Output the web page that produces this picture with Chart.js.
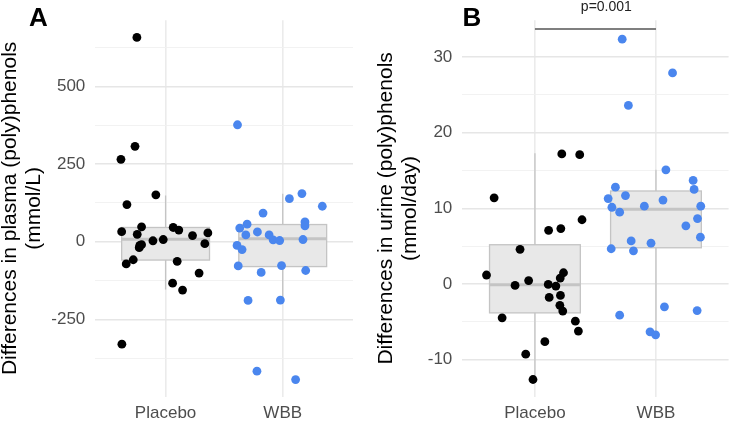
<!DOCTYPE html>
<html>
<head>
<meta charset="utf-8">
<script src="https://cdn.jsdelivr.net/npm/chart.js@4/dist/chart.umd.min.js"></script>
<style>
  body { margin: 0; background: #fff; }
  .painel { position: absolute; top: 0; height: 423px; }
</style>
</head>
<body>
<div class="painel" style="left:0;width:366px"><canvas id="chartPlasma"></canvas></div>
<div class="painel" style="left:366px;width:367px"><canvas id="chartUrina"></canvas></div>
<script>
// geral
Chart.defaults.font.family = 'Liberation Sans';
Chart.defaults.animation = false;

const categorias = ['Placebo', 'WBB'];

// plasma (A)
const plasmaPlacebo = [658.6, 307.6, 265.7, 151.3, 119.8, 32.5, 48.2, 24, -11.7, -9.5, -19, 3.2, 7.2,
    46, 37.8, 19.9, 28.4, -6.3, -71.5, -58, -63, -101, -133.6, -155.6, -330];
const plasmaPlaceboJitter = [0.755, 0.739, 0.619, 0.917, 0.670, 0.625, 0.795, 0.758, 0.78, 0.795, 0.775, 0.892, 0.98,
    1.065, 1.113, 1.23, 1.361, 1.335, 0.664, 0.724, 1.099, 1.286, 1.06, 1.145, 0.627];
const plasmaWBB = [377, 92.3, 138.7, 155.4, 114.4, 44, 56.6, 22, 31.5, 22, 6.3, 4, 64,
    51.4, 7.2, -11.7, -25.3, -77.8, -98.8, -76.8, -92.6, -189, -188, -417, -444];
const plasmaWBBJitter = [1.614, 1.832, 2.057, 2.164, 2.338, 1.633, 1.696, 1.685, 1.784, 1.884, 1.918, 1.974, 2.19,
    2.19, 2.173, 1.61, 1.653, 1.62, 1.816, 1.99, 2.196, 1.704, 1.98, 1.78, 2.11];
// [min, q1, mediana, q3, max]
const plasmaBox = [[-154, -59, 8.2, 46, 149], [-189, -80, 9.5, 55.5, 155]];
const plasmaTicks = [-375, -250, -125, 0, 125, 250, 375, 500, 625];

// urina (B)
const urinaPlacebo = [11.4, 17.2, 17.1, 8.5, 7.1, 7.33, 4.6, 1.2, -0.17, 0.47, -0.04, -0.26, 1.5, 0.8,
    -1.76, -1.5, -2.8, -3.56, -4.46, -4.9, -6.2, -7.6, -9.25, -12.6];
const urinaPlaceboJitter = [0.663, 1.222, 1.37, 1.389, 1.113, 1.214, 0.877, 0.6, 0.836, 0.948, 1.11, 1.173, 1.236, 1.209,
    1.118, 1.211, 1.206, 1.23, 0.729, 1.334, 1.359, 1.082, 0.924, 0.984];
const urinaWBB = [32.35, 27.9, 23.6, 15.1, 13.7, 12.5, 12.8, 11.3, 11.7, 11.1, 10.15, 10.3, 10.3, 9.5, 8.65,
    7.7, 6.2, 5.7, 5.4, 4.67, 4.4, -3.0, -3.5, -4.1, -6.3, -6.7];
const urinaWBBJitter = [1.721, 2.137, 1.772, 2.082, 2.307, 2.315, 1.665, 1.605, 1.748, 2.058, 1.636, 1.904, 2.37, 1.7, 2.343,
    2.247, 2.367, 1.795, 1.959, 1.63, 1.814, 2.07, 2.34, 1.7, 1.951, 1.997];
const urinaBox = [[-12.6, -3.8, -0.1, 5.2, 17.3], [-6.8, 4.8, 9.9, 12.3, 15.1]];
const urinaTicks = [-10, -5, 0, 5, 10, 15, 20, 25, 30];
const pValor = 'p=0.001';
const pAltura = 33.7;

const pontos = (valores, jitter) => valores.map((v, i) => ({ x: jitter[i], y: v }));

// boxplot desenhado por baixo dos pontos

const boxplot = {
    id: 'boxplot',
    beforeDatasetsDraw(chart, args, options) {
        const { ctx, scales: { x, y } } = chart;
        ctx.save();
        options.stats.forEach((s, i) => {
            const cx = x.getPixelForValue(i + 1);
            const l = x.getPixelForValue(i + 1 - 0.375);
            const r = x.getPixelForValue(i + 1 + 0.375);
            ctx.strokeStyle = '#c4c4c4';
            ctx.lineWidth = 1.3;
            // bigodes
            ctx.beginPath();
            ctx.moveTo(cx, y.getPixelForValue(s[0]));
            ctx.lineTo(cx, y.getPixelForValue(s[1]));
            ctx.moveTo(cx, y.getPixelForValue(s[3]));
            ctx.lineTo(cx, y.getPixelForValue(s[4]));
            ctx.stroke();
            // caixa
            const top = y.getPixelForValue(s[3]);
            const bot = y.getPixelForValue(s[1]);
            ctx.fillStyle = '#e8e8e8';
            ctx.fillRect(l, top, r - l, bot - top);
            ctx.strokeRect(l, top, r - l, bot - top);
            // mediana
            ctx.lineWidth = 3;
            ctx.beginPath();
            ctx.moveTo(l, y.getPixelForValue(s[2]));
            ctx.lineTo(r, y.getPixelForValue(s[2]));
            ctx.stroke();
        });
        ctx.restore();
    },
    afterDraw(chart, args, options) {
        const { ctx, scales: { x, y } } = chart;
        ctx.save();
        ctx.fillStyle = '#000';
        ctx.font = 'bold 26px Liberation Sans';
        ctx.textBaseline = 'alphabetic';
        ctx.fillText(options.tag, options.tagX, 26);
        if (options.p) {
            const py = y.getPixelForValue(options.p.altura);
            ctx.strokeStyle = '#555';
            ctx.lineWidth = 1.3;
            ctx.beginPath();
            ctx.moveTo(x.getPixelForValue(1), py);
            ctx.lineTo(x.getPixelForValue(2), py);
            ctx.stroke();
            ctx.fillStyle = '#222';
            ctx.font = '14px Liberation Sans';
            ctx.textAlign = 'center';
            ctx.fillText(options.p.texto, x.getPixelForValue(1.59), 11);
        }
        ctx.restore();
    }
};

function grafico(id, placebo, placeboX, wbb, wbbX, caixa, ticks, min, max, major, titulo, layout, tag, tagX, p) {
    new Chart(document.getElementById(id), {
        type: 'scatter',
        data: {
            datasets: [
                { data: pontos(placebo, placeboX), backgroundColor: '#000', borderWidth: 0, pointRadius: 4.4 },
                { data: pontos(wbb, wbbX), backgroundColor: '#4a86ee', borderWidth: 0, pointRadius: 4.4 }
            ]
        },
        options: {
            responsive: true,
            maintainAspectRatio: false,
            layout: { padding: layout },
            plugins: {
                legend: { display: false },
                tooltip: { enabled: false },
                boxplot: { stats: caixa, tag: tag, tagX: tagX, p: p }
            },
            scales: {
                x: {
                    type: 'linear', min: 0.4, max: 2.6,
                    afterBuildTicks: (s) => { s.ticks = [{ value: 1 }, { value: 2 }]; },
                    afterFit: (s) => { s.height = 26.4; },
                    ticks: { padding: 6.6, color: '#4d4d4d', font: { size: 17 },
                        callback: (v) => categorias[v - 1] },
                    grid: { color: '#ebebeb', lineWidth: 1.6, drawTicks: false },
                    border: { display: false }
                },
                y: {
                    min: min, max: max,
                    afterBuildTicks: (s) => { s.ticks = ticks.map(v => ({ value: v })); },
                    afterFit: (s) => { s.width = layout.yWidth; },
                    ticks: { padding: 10, color: '#4d4d4d', font: { size: 17 },
                        callback: (v) => (v % major === 0 ? v : '') },
                    grid: {
                        drawTicks: false,
                        color: (c) => (c.tick && c.tick.value % major === 0 ? '#e6e6e6' : '#f1f1f1'),
                        lineWidth: (c) => (c.tick && c.tick.value % major === 0 ? 1.6 : 0.9)
                    },
                    border: { display: false },
                    title: { display: true, text: titulo, color: '#000',
                        font: { size: 21, lineHeight: 1.15 }, padding: { top: layout.tituloTop, bottom: 0 } }
                }
            }
        },
        plugins: [boxplot]
    });
}

// Gráfico plasma
grafico('chartPlasma', plasmaPlacebo, plasmaPlaceboJitter, plasmaWBB, plasmaWBBJitter, plasmaBox,
    plasmaTicks, -499, 714, 250, ['Differences in plasma (poly)phenols', '(mmol/L)'],
    { top: 11.7, right: 13, bottom: 0, left: 0, yWidth: 95.3, tituloTop: -2 }, 'A', 29, null);

// Gráfico urina
grafico('chartUrina', urinaPlacebo, urinaPlaceboJitter, urinaWBB, urinaWBBJitter, urinaBox,
    urinaTicks, -14.86, 34.86, 10, ['Differences in urine (poly)phenols', '(mmol/day)'],
    { top: 9.8, right: 3, bottom: 0, left: 0, yWidth: 96.3, tituloTop: 8 }, 'B', 96.5,
    { texto: pValor, altura: pAltura });
</script>
</body>
</html>
